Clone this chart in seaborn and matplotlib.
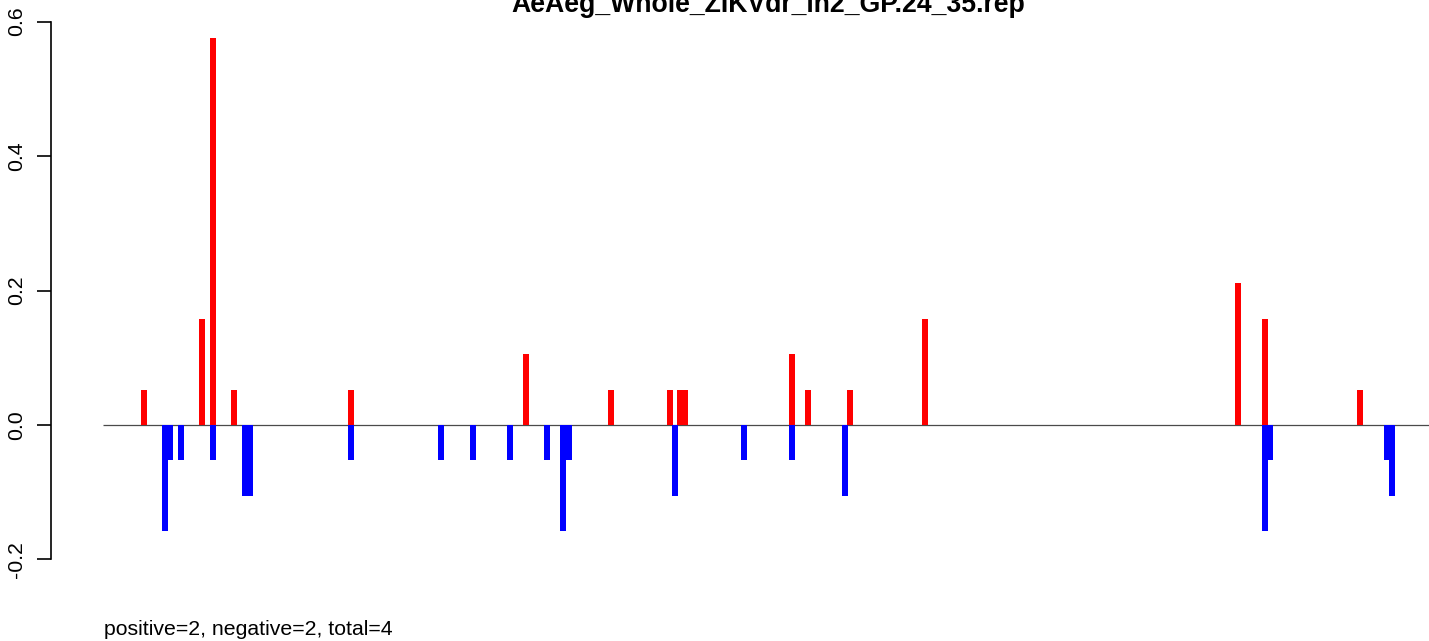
import pandas as pd
import matplotlib
matplotlib.use('Agg')
import matplotlib.pyplot as plt
import seaborn as sns

plt.rcParams['font.family'] = ['Liberation Sans', 'DejaVu Sans']

title = 'AeAeg_Whole_ZIKVdr_ln2_GP.24_35.rep'
summary = 'positive=2, negative=2, total=4'

# positive strand (red) - position index and value
pos_x = [7, 18, 20, 24, 46, 79, 95, 106, 108, 109, 129, 132, 140, 154, 213, 218, 236]
pos_y = [0.0526, 0.1579, 0.575, 0.0526, 0.0526, 0.1053, 0.0526, 0.0526, 0.0526, 0.0526,
         0.1053, 0.0526, 0.0526, 0.1579, 0.2105, 0.1579, 0.0526]

# negative strand (blue)
neg_x = [11, 12, 14, 20, 26, 27, 46, 63, 69, 76, 83, 86, 87, 107, 120, 129, 139, 218, 219, 241, 242]
neg_y = [-0.1579, -0.0526, -0.0526, -0.0526, -0.1053, -0.1053, -0.0526, -0.0526, -0.0526,
         -0.0526, -0.0526, -0.1579, -0.0526, -0.1053, -0.0526, -0.0526, -0.1053, -0.1579,
         -0.0526, -0.0526, -0.1053]

y_ticks = [-0.2, 0.0, 0.2, 0.4, 0.6]
y_labels = ['-0.2', '0.0', '0.2', '0.4', '0.6']

W, H = 1429, 641
fig = plt.figure(figsize=(W / 100, H / 100), dpi=100)
ax = fig.add_axes([50.7 / W, 60 / H, (1485 - 50.7) / W, 581 / H])

pos_df = pd.DataFrame({'x': pos_x, 'y': pos_y})
neg_df = pd.DataFrame({'x': neg_x, 'y': neg_y})

sns.barplot(data=pos_df, x='x', y='y', orient='x', native_scale=True, color='#ff0000',
            saturation=1, width=1.12, errorbar=None, linewidth=0, ax=ax)
sns.barplot(data=neg_df, x='x', y='y', orient='x', native_scale=True, color='#0000ff',
            saturation=1, width=1.12, errorbar=None, linewidth=0, ax=ax)

# zero line
ax.hlines(0, -0.65, 300, color='#4a4a4a', lw=0.9, zorder=0.5)

ax.set_xlim(-10.5, 259.5)
ax.set_ylim(-0.232, 0.632)

for s in ['top', 'right', 'bottom']:
    ax.spines[s].set_visible(False)
ax.spines['left'].set_bounds(-0.2, 0.6)
ax.spines['left'].set_linewidth(1.2)

ax.set_xticks([])
ax.set_yticks(y_ticks)
ax.set_yticklabels(y_labels, rotation=90, va='center', fontsize=15.3)
ax.tick_params(axis='y', length=9.9, width=1.2, pad=8, color='black')
ax.set_xlabel('')
ax.set_ylabel('')

# title sits partly above the top edge, as in the original
fig.text(767.9 / W, 628.5 / H, title, ha='center', va='baseline', fontsize=19.2, fontweight='bold')
fig.text(104 / W, 6 / H, summary, ha='left', va='baseline', fontsize=15.3)

fig.savefig('out.png', dpi=100)
